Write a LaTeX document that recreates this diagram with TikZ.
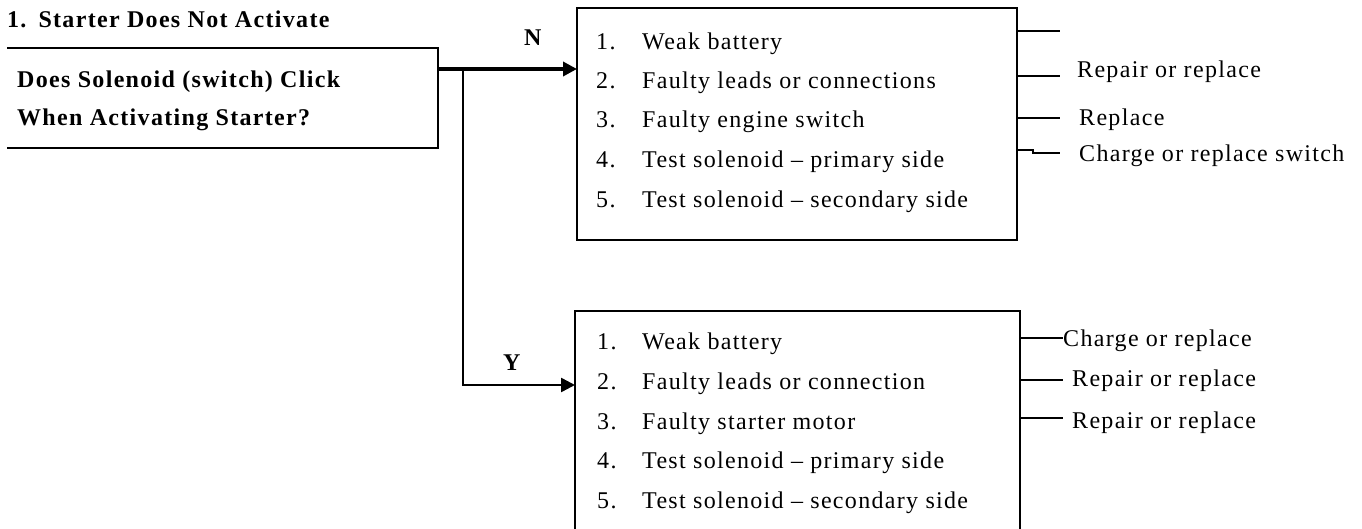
\documentclass[tikz,border=0pt]{standalone}
\usepackage{fontspec}
\setmainfont[LetterSpace=5.5]{Liberation Serif}
\usetikzlibrary{arrows.meta}
\begin{document}
\begin{tikzpicture}[x=1pt,y=-1pt,
  boxline/.style={draw, line width=1.5pt},
  frame/.style={inner sep=0pt, outer sep=0pt, anchor=north west},
  item/.style={anchor=base west, inner sep=0pt, font=\fontsize{24}{28}\selectfont},
  bitem/.style={anchor=base west, inner sep=0pt, font=\bfseries\fontsize{24}{28}\selectfont},
  stub/.style={line width=1.5pt},
  thickarrow/.style={line width=4pt, -{Triangle[length=14pt,width=14pt]}},
  thinarrow/.style={line width=2.5pt, -{Triangle[length=14pt,width=14pt]}}]
\useasboundingbox (0,0) rectangle (1362,529);

% title
\node[bitem] (title) at (7,28) {1.\hspace{0.5em}Starter Does Not Activate};

% question box
\node[frame, minimum width=431pt, minimum height=100pt] (q) at (7,48) {};
\draw[boxline] (q.north west) -- (q.north east) -- (q.south east) -- (q.south west);
\node[bitem] (q1) at (17,88) {Does Solenoid (switch) Click};
\node[bitem] (q2) at (17,126) {When Activating Starter?};

% N box
\node[frame, boxline, minimum width=440pt, minimum height=232pt] (nbox) at (577,8) {};
\node[item] (n1n) at (596,50) {1.};  \node[item] (n1) at (642,50) {Weak battery};
\node[item] (n2n) at (596,89) {2.};  \node[item] (n2) at (642,89) {Faulty leads or connections};
\node[item] (n3n) at (596,128) {3.}; \node[item] (n3) at (642,128) {Faulty engine switch};
\node[item] (n4n) at (596,168) {4.}; \node[item] (n4) at (642,168) {Test solenoid -- primary side};
\node[item] (n5n) at (596,208) {5.}; \node[item] (n5) at (642,208) {Test solenoid -- secondary side};

% Y box
\node[frame, boxline, minimum width=445pt, minimum height=232pt] (ybox) at (575,311) {};
\node[item] (y1n) at (597,349) {1.}; \node[item] (y1) at (642,349) {Weak battery};
\node[item] (y2n) at (597,389) {2.}; \node[item] (y2) at (642,389) {Faulty leads or connection};
\node[item] (y3n) at (597,429) {3.}; \node[item] (y3) at (642,429) {Faulty starter motor};
\node[item] (y4n) at (597,468) {4.}; \node[item] (y4) at (642,468) {Test solenoid -- primary side};
\node[item] (y5n) at (597,508) {5.}; \node[item] (y5) at (642,508) {Test solenoid -- secondary side};

% branch connectors
\coordinate (split) at (463,69);
\draw[thickarrow] (q.east |- split) -- (nbox.west |- split);
\draw[thinarrow] (split) |- (ybox.west |- 0,385);
\node[bitem] (nlab) at (524,46) {N};
\node[bitem] (ylab) at (503,370) {Y};

% N outcomes
\node[item] (r2) at (1077,78) {Repair or replace};
\node[item] (r3) at (1079,126) {Replace};
\node[item] (r4) at (1079,162) {Charge or replace switch};
\coordinate (s1) at (1060,31);
\draw[stub] (nbox.east |- s1) -- (s1);
\draw[stub] (nbox.east |- 0,76) -- (1060,76);
\draw[stub] (nbox.east |- 0,118) -- (1060,118);
\draw[stub] (nbox.east |- 0,150) -- (1033,150) -- (1033,153) -- (1060,153);

% Y outcomes
\node[item] (c1) at (1063,346) {Charge or replace};
\node[item] (c2) at (1072,386) {Repair or replace};
\node[item] (c3) at (1072,428) {Repair or replace};
\draw[stub] (ybox.east |- 0,338) -- (1063,338);
\draw[stub] (ybox.east |- 0,380) -- (1063,380);
\draw[stub] (ybox.east |- 0,418) -- (1063,418);
\end{tikzpicture}
\end{document}
